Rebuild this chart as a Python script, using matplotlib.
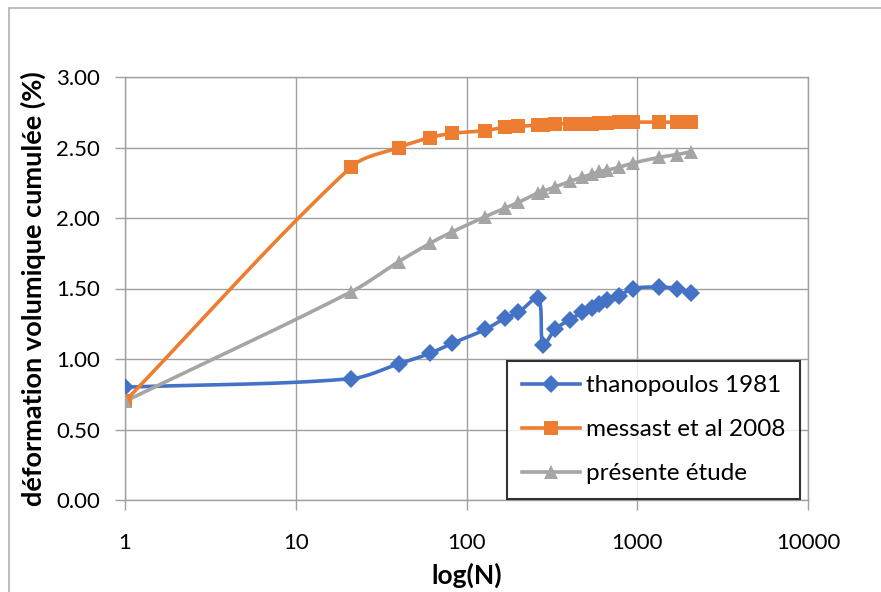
import numpy as np
import matplotlib
matplotlib.use('Agg')
import matplotlib.pyplot as plt
from matplotlib.lines import Line2D
from matplotlib.patches import Rectangle

plt.rcParams['font.family'] = ['Lato', 'DejaVu Sans']

# nombre de cycles
cycles = [1, 21, 40, 61, 82, 129, 168, 201, 263, 281, 330, 404, 476,
          544, 598, 667, 783, 946, 1344, 1713, 2068]

thanopoulos = [0.80, 0.86, 0.965, 1.04, 1.11, 1.21, 1.29, 1.33, 1.43, 1.10,
               1.21, 1.28, 1.33, 1.36, 1.39, 1.42, 1.45, 1.50, 1.51, 1.50, 1.47]
messast = [0.70, 2.36, 2.50, 2.57, 2.60, 2.62, 2.645, 2.65, 2.66, 2.66,
           2.665, 2.67, 2.67, 2.67, 2.675, 2.675, 2.68, 2.68, 2.68, 2.68, 2.68]
presente = [0.70, 1.475, 1.69, 1.82, 1.90, 2.01, 2.07, 2.11, 2.18, 2.19,
            2.22, 2.26, 2.29, 2.31, 2.33, 2.34, 2.36, 2.39, 2.43, 2.45, 2.47]

labels = ['thanopoulos 1981', 'messast et al 2008', 'présente étude']
colors = ['#4472C4', '#ED7D31', '#A5A5A5']
markers = ['D', 's', '^']
msizes = [9, 10, 10]


def smooth(x, y, n=24):
    # lissage type Excel (bezier), calcule en pixels (log x)
    sx, sy = 170.7, 141.0
    u = np.log10(np.asarray(x, float)) * sx
    v = np.asarray(y, float) * sy
    P = np.column_stack([u, v])
    P = np.vstack([P[0], P, P[-1]])
    out = []
    for i in range(1, len(P) - 2):
        p0, p1, p2, p3 = P[i - 1], P[i], P[i + 1], P[i + 2]
        l01 = np.hypot(*(p1 - p0))
        l12 = np.hypot(*(p2 - p1))
        l23 = np.hypot(*(p3 - p2))
        c1 = p1 + (p2 - p0) * (l12 / max(l01 + l12, 1e-9)) / 3.0
        c2 = p2 - (p3 - p1) * (l12 / max(l12 + l23, 1e-9)) / 3.0
        t = np.linspace(0, 1, n)[:, None]
        seg = ((1 - t) ** 3) * p1 + 3 * ((1 - t) ** 2) * t * c1 + 3 * (1 - t) * t ** 2 * c2 + t ** 3 * p2
        out.append(seg if i == 1 else seg[1:])
    out = np.vstack(out)
    return 10 ** (out[:, 0] / sx), out[:, 1] / sy


fig = plt.figure(figsize=(8.81, 5.92), dpi=100)
ax = fig.add_axes([125 / 881, 1 - 500 / 592, (808 - 125) / 881, (500 - 77) / 592])

series = [thanopoulos, messast, presente]
for vals, c, m, ms in zip(series, colors, markers, msizes):
    sx, sy = smooth(cycles, vals)
    ax.plot(sx, sy, color=c, lw=2.6, zorder=3, solid_capstyle='round')
    ax.plot(cycles, vals, linestyle='none', marker=m, ms=ms, color=c,
            markeredgewidth=0, zorder=4)

ax.set_xscale('log')
ax.set_xlim(1, 10000)
ax.set_ylim(0, 3)
ax.set_xticks([1, 10, 100, 1000, 10000])
ax.set_xticklabels(['1', '10', '100', '1000', '10000'])
ax.minorticks_off()
ax.set_yticks(np.arange(0, 3.01, 0.5))
ax.set_yticklabels(['%.2f' % v for v in np.arange(0, 3.01, 0.5)])

gcol = '#A0A0A0'
ax.grid(True, color=gcol, lw=1.0)
ax.set_axisbelow(True)
for s in ax.spines.values():
    s.set_color(gcol)
    s.set_linewidth(1.0)
ax.tick_params(axis='both', colors=gcol, labelcolor='black', labelsize=16,
               length=7, width=1.0, direction='out')
ax.tick_params(axis='y', pad=11)
ax.tick_params(axis='x', pad=17)

ax.set_xlabel('log(N)', fontsize=19, fontweight='bold')
ax.set_ylabel('déformation volumique cumulée (%)', fontsize=19.5,
              fontweight='bold')
ax.xaxis.set_label_coords(0.5, -0.148)
ax.yaxis.set_label_coords(-0.116, 0.5)

handles = [Line2D([], [], color=c, lw=2.6, marker=m, ms=ms, markeredgewidth=0)
           for c, m, ms in zip(colors, markers, msizes)]
leg = ax.legend(handles, labels, loc='lower right',
                bbox_to_anchor=(800 / 881, 1 - 499 / 592),
                bbox_transform=fig.transFigure, fontsize=17.5, frameon=True,
                fancybox=False, handlelength=2.4, labelspacing=0.95,
                borderpad=0.6, handletextpad=0.25, borderaxespad=0)
leg.get_frame().set_edgecolor('black')
leg.get_frame().set_linewidth(1.5)
leg.set_zorder(10)

# cadre du graphique (coupe a droite et en bas)
fig.patches.append(Rectangle((9 / 881, -0.05), 1.1, 1 - 8 / 592 + 0.05,
                             transform=fig.transFigure, fill=False,
                             edgecolor='#B0B0B0', lw=1.2))

fig.savefig('out.png', dpi=100)
